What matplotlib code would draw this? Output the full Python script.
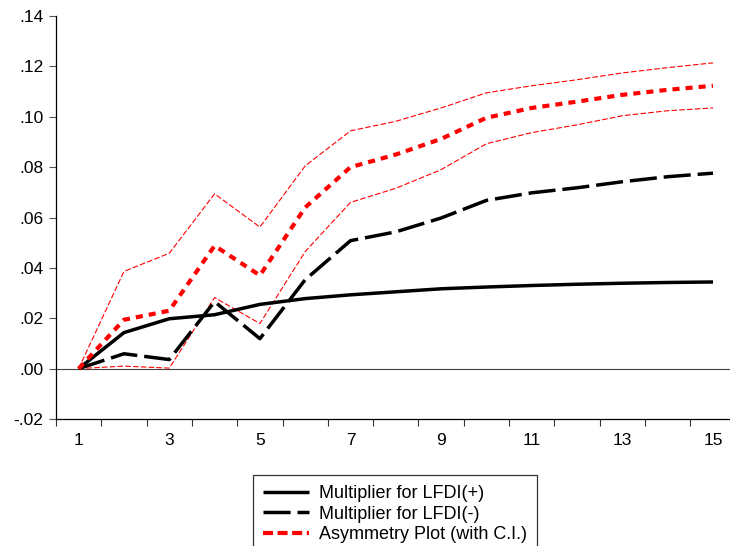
import matplotlib
matplotlib.use("Agg")
import matplotlib.pyplot as plt
from matplotlib.lines import Line2D
from matplotlib.ticker import FixedLocator, NullFormatter

plt.rcParams['font.family'] = ['Liberation Sans', 'DejaVu Sans']

# horizon 1..15
periods = list(range(1, 16))

# cumulative multipliers
mult_pos = [0.0, 0.0143, 0.0198, 0.0214, 0.0255, 0.0278, 0.0293, 0.0305,
            0.0317, 0.0324, 0.0330, 0.0335, 0.0339, 0.0342, 0.0344]
mult_neg = [0.0, 0.0059, 0.0036, 0.0266, 0.0119, 0.0353, 0.0508, 0.0543,
            0.0598, 0.0668, 0.0698, 0.0718, 0.0742, 0.0762, 0.0776]
asym = [0.0, 0.0194, 0.0230, 0.0488, 0.0370, 0.0640, 0.0800, 0.0850,
        0.0912, 0.0996, 0.1035, 0.1060, 0.1087, 0.1107, 0.1123]
asym_upper = [0.0, 0.0386, 0.0458, 0.0694, 0.0562, 0.0805, 0.0944, 0.0982,
              0.1035, 0.1095, 0.1123, 0.1147, 0.1174, 0.1195, 0.1214]
asym_lower = [0.0, 0.0010, 0.0002, 0.0282, 0.0179, 0.0465, 0.0660, 0.0716,
              0.0790, 0.0893, 0.0937, 0.0968, 0.1004, 0.1024, 0.1035]

y_ticks = [-0.02, 0.0, 0.02, 0.04, 0.06, 0.08, 0.10, 0.12, 0.14]
x_labels = [1, 3, 5, 7, 9, 11, 13, 15]
legend_labels = ['Multiplier for LFDI(+)', 'Multiplier for LFDI(-)', 'Asymmetry Plot (with C.I.)']

fig = plt.figure(figsize=(7.3, 5.46), dpi=100)
ax = fig.add_axes([56 / 730, 1 - 419 / 546, 1 - 56 / 730, (419 - 16) / 546])

ax.axhline(0, color='#404040', lw=0.8, zorder=1)

ax.plot(periods, asym_upper, color='red', lw=0.8, dashes=(5, 2), zorder=2)
ax.plot(periods, asym_lower, color='red', lw=0.8, dashes=(5, 2), zorder=2)
ax.plot(periods, mult_pos, color='black', lw=2.5, solid_capstyle='butt', zorder=3)
ax.plot(periods, mult_neg, color='black', lw=2.5, dashes=(7.8, 2.0), zorder=3)
ax.plot(periods, asym, color='red', lw=3.0, dashes=(1.7, 1.45), zorder=4)

ax.set_xlim(0.5, 15.375)
ax.set_ylim(-0.02, 0.14)

# ticks between observations, labels on odd periods
ax.xaxis.set_major_locator(FixedLocator([i + 0.5 for i in range(0, 16)]))
ax.xaxis.set_major_formatter(NullFormatter())
ax.xaxis.set_minor_locator(FixedLocator(x_labels))
ax.set_xticklabels([str(v) for v in x_labels], minor=True)
ax.tick_params(axis='x', which='major', direction='out', length=5, width=0.8, color='#333333')
ax.tick_params(axis='x', which='minor', length=0, pad=10, labelsize=12.5)

ax.set_yticks(y_ticks)
ax.set_yticklabels([('-' if v < 0 else '') + ('%.2f' % abs(v))[1:] for v in y_ticks])
ax.tick_params(axis='y', direction='out', length=5, width=0.8, color='#555555', pad=4, labelsize=12.5)

for s in ['top', 'right']:
    ax.spines[s].set_visible(False)
for s in ['left', 'bottom']:
    ax.spines[s].set_linewidth(0.9)

# legend handles (box runs off the bottom edge like the original)
handles = [Line2D([], [], color='black', lw=2.5, solid_capstyle='butt'),
           Line2D([], [], color='black', lw=2.5, dashes=(7.8, 2.0)),
           Line2D([], [], color='red', lw=3.0, dashes=(2.4, 1.1))]
leg = fig.legend(handles, legend_labels,
                 loc='upper left', bbox_to_anchor=(253 / 730, 1 - 475 / 546),
                 fontsize=13, frameon=True, fancybox=False, edgecolor='black',
                 handlelength=2.55, handletextpad=0.55, labelspacing=0.2,
                 borderpad=0.55, borderaxespad=0)
leg.get_frame().set_linewidth(0.9)

fig.savefig('out.png', dpi=100)
